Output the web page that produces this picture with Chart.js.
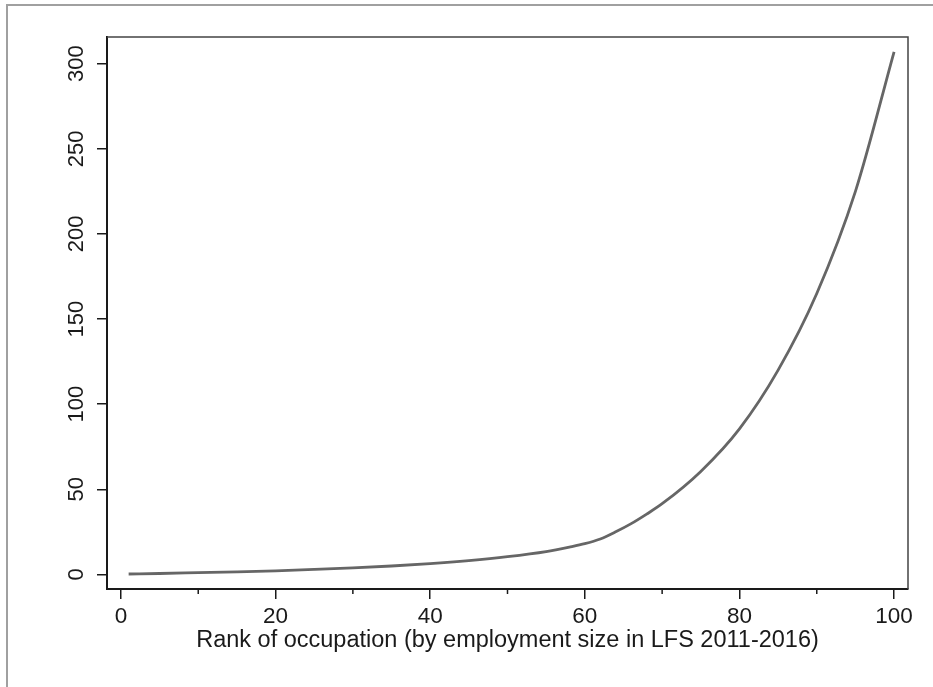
<!DOCTYPE html>
<html>
<head>
<meta charset="utf-8">
<script src="https://cdn.jsdelivr.net/npm/chart.js@4.4.1/dist/chart.umd.min.js"></script>
<style>
  body { margin: 0; background: #fff; }
  #wrap { position: relative; width: 933px; height: 687px; overflow: hidden; }
  #frame { position: absolute; left: 6px; top: 4px; width: 1000px; height: 1000px;
           border-left: 2px solid #a0a0a0; border-top: 2px solid #a0a0a0; }
  #chart { position: absolute; left: 0; top: 0; }
</style>
</head>
<body>
<div id="wrap">
  <div id="frame"></div>
  <canvas id="chart" width="933" height="687"></canvas>
</div>
<script>
// Rangos de ocupación y valores
const ranks  = [1, 5, 10, 15, 20, 25, 30, 35, 40, 45, 50, 55, 58, 60, 62, 64, 66, 68, 70, 75, 80, 85, 90, 95, 100];
const values = [0.2, 0.5, 1.0, 1.5, 2.1, 2.9, 3.8, 4.9, 6.3, 8.1, 10.4, 13.4, 16.0, 18.0, 20.8, 25.0, 29.8, 35.4, 41.5, 60.5, 85.5, 120, 165, 225, 307];
const xMinorTicks = [10, 30, 50, 70, 90];
const xTitle = 'Rank of occupation (by employment size in LFS 2011-2016)';

const FONT = 'Arial, "Liberation Sans", Helvetica, sans-serif';
const INK = '#1a1a1a';

// Marco superior/derecho y marcas menores del eje x
const framePlugin = {
  id: 'framePlugin',
  afterDraw(chart) {
    const { ctx, chartArea: a, scales } = chart;
    ctx.save();
    ctx.strokeStyle = '#444';
    ctx.lineWidth = 1.5;
    ctx.beginPath();
    ctx.moveTo(a.left, a.top);
    ctx.lineTo(a.right, a.top);
    ctx.lineTo(a.right, a.bottom);
    ctx.stroke();

    ctx.strokeStyle = INK;
    ctx.lineWidth = 1.5;
    xMinorTicks.forEach(v => {
      const px = scales.x.getPixelForValue(v);
      ctx.beginPath();
      ctx.moveTo(px, a.bottom);
      ctx.lineTo(px, a.bottom + 5);
      ctx.stroke();
    });
    ctx.restore();
  }
};

const points = ranks.map((r, i) => ({ x: r, y: values[i] }));

new Chart(document.getElementById('chart'), {
  type: 'line',
  data: {
    datasets: [{
      data: points,
      borderColor: '#666',
      borderWidth: 2.8,
      pointRadius: 0,
      fill: false,
      cubicInterpolationMode: 'monotone'
    }]
  },
  options: {
    responsive: false,
    animation: false,
    layout: { padding: { left: 0, top: 37, right: 25, bottom: 0 } },
    plugins: { legend: { display: false }, tooltip: { enabled: false } },
    scales: {
      x: {
        type: 'linear',
        min: -1.8, max: 101.8,
        afterFit: s => { s.height = 98; },
        border: { color: INK, width: 2 },
        grid: { drawOnChartArea: false, drawTicks: true, tickLength: 10, color: INK, lineWidth: 1.5 },
        ticks: { stepSize: 20, includeBounds: false, color: INK, padding: 4,
                 font: { family: FONT, size: 22.5 }, maxRotation: 0 },
        title: { display: true, text: xTitle, color: INK,
                 font: { family: FONT, size: 23.5 }, padding: { top: 0, bottom: 32 } }
      },
      y: {
        min: -8.6, max: 315.7,
        afterFit: s => { s.width = 107; },
        border: { color: INK, width: 2 },
        grid: { drawOnChartArea: false, drawTicks: true, tickLength: 10, color: INK, lineWidth: 1.5 },
        ticks: { stepSize: 50, includeBounds: false, color: INK, padding: 2,
                 minRotation: 90, maxRotation: 90, crossAlign: 'center',
                 font: { family: FONT, size: 22 } }
      }
    }
  },
  plugins: [framePlugin]
});
</script>
</body>
</html>
